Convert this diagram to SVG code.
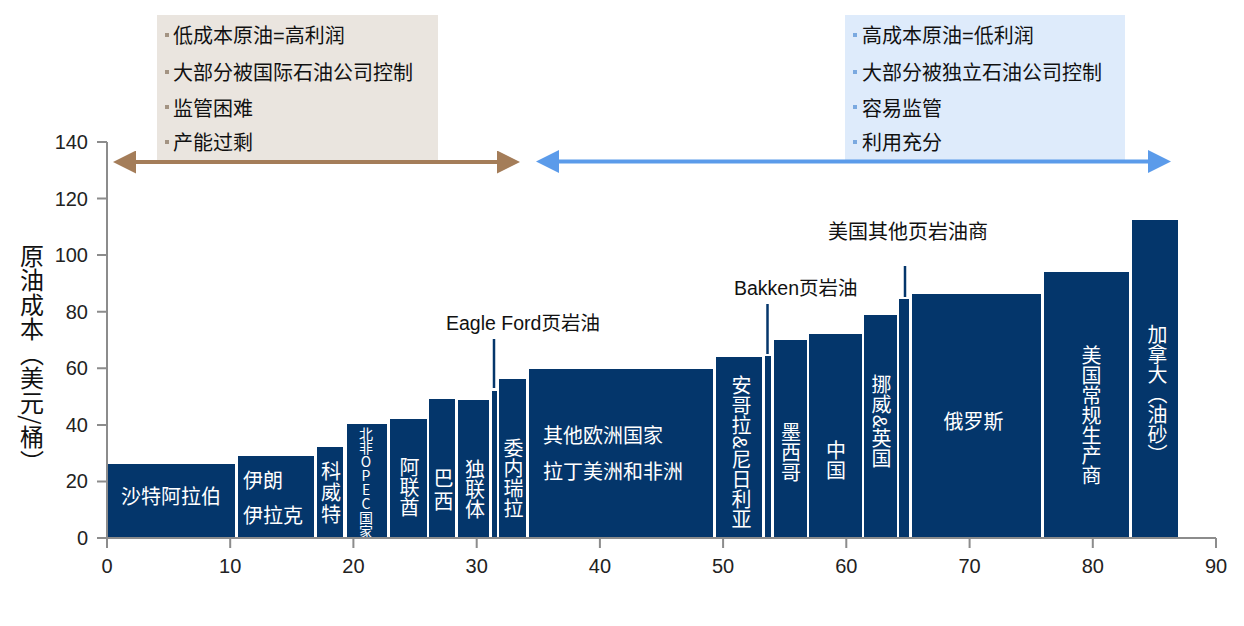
<svg xmlns="http://www.w3.org/2000/svg" width="1244" height="626" viewBox="0 0 1244 626">
<defs>
<style>
text{font-family:"Liberation Sans","Noto Sans CJK SC",sans-serif;}
.bar{fill:#04366b;}
.ax{stroke:#8c8c8c;stroke-width:2;fill:none;}
.tk{font-size:20px;fill:#222;}
.box{font-size:20px;fill:#111;}
.ann{font-size:19.5px;fill:#111;}
.w{font-size:20px;fill:#fff;}
.v{font-size:20px;fill:#fff;writing-mode:vertical-rl;text-anchor:middle;}
.ptr{stroke:#04366b;stroke-width:2.5;}
</style>
<marker id="mb" viewBox="0 0 23 23" refX="11" refY="11.5" markerWidth="23" markerHeight="23" markerUnits="userSpaceOnUse" orient="auto-start-reverse"><path d="M0,0 L23,11.5 L0,23 z" fill="#a47d59"/></marker>
<marker id="ml" viewBox="0 0 23 23" refX="11" refY="11.5" markerWidth="23" markerHeight="23" markerUnits="userSpaceOnUse" orient="auto-start-reverse"><path d="M0,0 L23,11.5 L0,23 z" fill="#5b9bea"/></marker>
</defs>
<rect width="1244" height="626" fill="#fff"/>

<g id="box-left">
<rect x="157" y="15" width="281" height="146" fill="#eae5df"/>
<g fill="#a39382"><rect x="165" y="33" width="4" height="4"/><rect x="165" y="70" width="4" height="4"/><rect x="165" y="105" width="4" height="4"/><rect x="165" y="140" width="4" height="4"/></g>
<text class="box" x="173" y="43">低成本原油=高利润</text>
<text class="box" x="173" y="80">大部分被国际石油公司控制</text>
<text class="box" x="173" y="115.5">监管困难</text>
<text class="box" x="173" y="150">产能过剩</text>
</g>
<g id="box-right">
<rect x="845" y="15" width="280" height="146" fill="#deebfb"/>
<g fill="#7aa9e0"><rect x="853" y="33" width="4" height="4"/><rect x="853" y="70" width="4" height="4"/><rect x="853" y="105" width="4" height="4"/><rect x="853" y="140" width="4" height="4"/></g>
<text class="box" x="862" y="43">高成本原油=低利润</text>
<text class="box" x="862" y="80">大部分被独立石油公司控制</text>
<text class="box" x="862" y="115.5">容易监管</text>
<text class="box" x="862" y="150">利用充分</text>
</g>

<g id="connectors">
<line x1="125" y1="162" x2="508" y2="162" stroke="#a47d59" stroke-width="4" marker-start="url(#mb)" marker-end="url(#mb)"/>
<line x1="548" y1="161.5" x2="1159" y2="161.5" stroke="#5b9bea" stroke-width="4" marker-start="url(#ml)" marker-end="url(#ml)"/>
<line class="ptr" x1="494" y1="339" x2="494" y2="388"/>
<line class="ptr" x1="767.5" y1="304" x2="767.5" y2="354"/>
<line class="ptr" x1="905" y1="266" x2="905" y2="297"/>
</g>

<g id="bars">
<rect class="bar" x="107" y="464" width="128" height="74"/>
<rect class="bar" x="238" y="456" width="76" height="82"/>
<rect class="bar" x="317" y="447" width="26" height="91"/>
<rect class="bar" x="347" y="424" width="40" height="114"/>
<rect class="bar" x="390" y="419" width="37" height="119"/>
<rect class="bar" x="429" y="399" width="26" height="139"/>
<rect class="bar" x="458" y="400" width="31" height="138"/>
<rect class="bar" x="492" y="391" width="5" height="147"/>
<rect class="bar" x="499" y="379" width="27" height="159"/>
<rect class="bar" x="529" y="369" width="184" height="169"/>
<rect class="bar" x="716" y="357" width="46" height="181"/>
<rect class="bar" x="765" y="356" width="6" height="182"/>
<rect class="bar" x="774" y="340" width="33" height="198"/>
<rect class="bar" x="809" y="334" width="53" height="204"/>
<rect class="bar" x="864" y="315" width="33" height="223"/>
<rect class="bar" x="899" y="299" width="10" height="239"/>
<rect class="bar" x="912" y="294" width="129" height="244"/>
<rect class="bar" x="1044" y="272" width="85" height="266"/>
<rect class="bar" x="1132" y="220" width="46" height="318"/>
</g>

<g id="bar-labels">
<text class="w" x="171" y="504.3" text-anchor="middle">沙特阿拉伯</text>
<text class="w" x="243" y="487.6">伊朗</text>
<text class="w" x="243" y="522.6">伊拉克</text>
<text class="v" x="329.5" y="493.5" style="letter-spacing:1.5px">科威特</text>
<text class="v" x="366" y="482.5" style="font-family:'Noto Sans CJK SC',sans-serif;font-size:14px;text-orientation:upright">北非OPEC国家</text>
<text class="v" x="408" y="487.5">阿联酋</text>
<text class="v" x="442" y="491" style="letter-spacing:3px">巴西</text>
<text class="v" x="473.5" y="489">独联体</text>
<text class="v" x="512" y="478.5">委内瑞拉</text>
<text class="w" x="543" y="442.6">其他欧洲国家</text>
<text class="w" x="543" y="479.3">拉丁美洲和非洲</text>
<text class="v" x="740" y="452.5">安哥拉&amp;尼日利亚</text>
<text class="v" x="789.5" y="452">墨西哥</text>
<text class="v" x="834.5" y="460">中国</text>
<text class="v" x="880" y="421.5">挪威&amp;英国</text>
<text class="w" x="973.5" y="429.3" text-anchor="middle">俄罗斯</text>
<text class="v" x="1090" y="415">美国常规生产商</text>
<text class="v" x="1156" y="394">加拿大（油砂）</text>
</g>

<g id="annotations">
<text class="ann" x="446" y="329.5">Eagle Ford页岩油</text>
<text class="ann" x="734" y="294.5">Bakken页岩油</text>
<text class="ann" x="828" y="238.5" style="font-size:20px">美国其他页岩油商</text>
</g>

<g id="axes">
<path class="ax" d="M107,142 V538 H1216"/>
<path class="ax" d="M97,142 H107 M97,198.6 H107 M97,255.1 H107 M97,311.7 H107 M97,368.3 H107 M97,424.9 H107 M97,481.4 H107 M97,538 H107"/>
<path class="ax" d="M107,538 V548 M230.2,538 V548 M353.4,538 V548 M476.7,538 V548 M599.9,538 V548 M723.1,538 V548 M846.3,538 V548 M969.6,538 V548 M1092.8,538 V548 M1216,538 V548"/>
<g class="tk" text-anchor="end">
<text x="88" y="149">140</text>
<text x="88" y="205.6">120</text>
<text x="88" y="262.1">100</text>
<text x="88" y="318.7">80</text>
<text x="88" y="375.3">60</text>
<text x="88" y="431.9">40</text>
<text x="88" y="488.4">20</text>
<text x="88" y="545">0</text>
</g>
<g class="tk" text-anchor="middle">
<text x="107" y="573">0</text>
<text x="230.2" y="573">10</text>
<text x="353.4" y="573">20</text>
<text x="476.7" y="573">30</text>
<text x="599.9" y="573">40</text>
<text x="723.1" y="573">50</text>
<text x="846.3" y="573">60</text>
<text x="969.6" y="573">70</text>
<text x="1092.8" y="573">80</text>
<text x="1216" y="573">90</text>
</g>
<text x="32" y="359" style="font-family:'Noto Sans CJK SC',sans-serif;font-size:24px;fill:#111;writing-mode:vertical-rl;text-anchor:middle;letter-spacing:0.5px">原油成本（美元/桶）</text>
</g>
</svg>
